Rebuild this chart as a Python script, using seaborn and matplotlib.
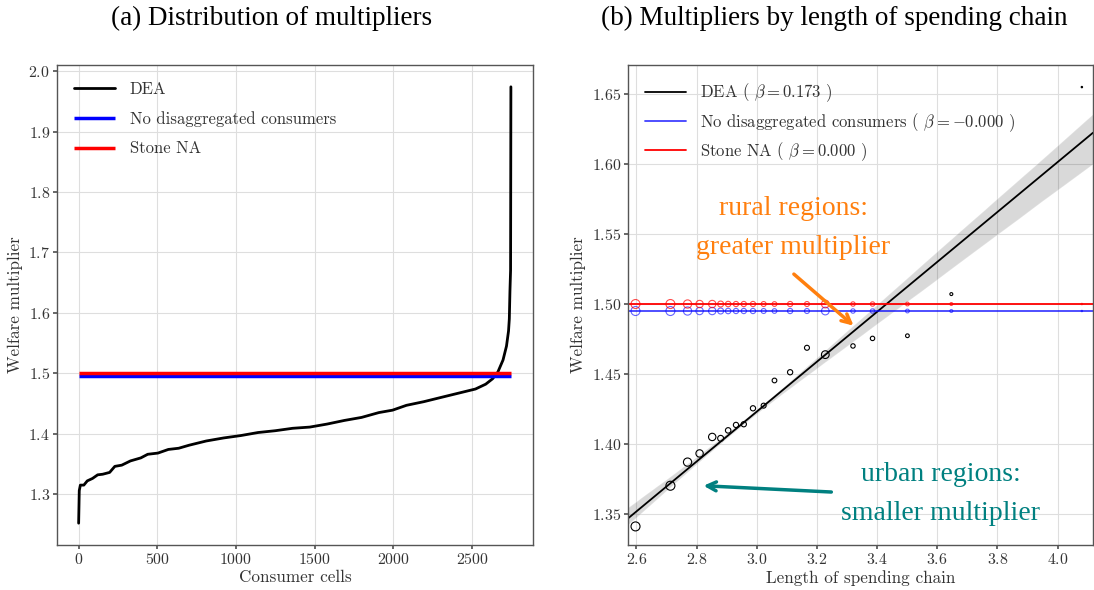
import numpy as np
import pandas as pd
import matplotlib
matplotlib.use("Agg")
import matplotlib.pyplot as plt
import seaborn as sns

# ---------------- Data ----------------
# Panel (a): DEA welfare multipliers sorted across consumer cells
cell_rank = [0, 4, 11, 33, 55, 88, 121, 153, 197, 230, 274, 329, 395, 439, 504,
             570, 636, 702, 811, 921, 1031, 1140, 1250, 1360, 1469, 1579, 1689,
             1798, 1908, 1995, 2083, 2193, 2302, 2412, 2522, 2587, 2631, 2664,
             2697, 2719, 2732, 2737, 2741, 2745, 2747]
dea_sorted = [1.252, 1.306, 1.315, 1.315, 1.322, 1.326, 1.332, 1.333, 1.336, 1.346,
              1.348, 1.355, 1.360, 1.366, 1.368, 1.374, 1.376, 1.381, 1.388, 1.393,
              1.397, 1.402, 1.405, 1.409, 1.411, 1.416, 1.422, 1.427, 1.435, 1.439,
              1.447, 1.453, 1.460, 1.467, 1.474, 1.482, 1.491, 1.502, 1.522, 1.545,
              1.570, 1.590, 1.636, 1.670, 1.974]
n_cells = 2750
no_disagg_value = 1.495
stone_na_value = 1.500

# Panel (b): multipliers by length of spending chain
chain_length = [2.597, 2.713, 2.770, 2.810, 2.852, 2.880, 2.905, 2.931, 2.957, 2.9875,
                3.023, 3.059, 3.111, 3.167, 3.228, 3.320, 3.385, 3.501, 3.647, 4.081]
dea_mult = [1.3409, 1.3700, 1.3869, 1.3931, 1.4049, 1.4039, 1.4096, 1.4135, 1.4140, 1.4254,
            1.4273, 1.4453, 1.4512, 1.4687, 1.4638, 1.4700, 1.4754, 1.4773, 1.5071, 1.6552]
cells_per_bin = [300, 300, 250, 200, 200, 130, 110, 100, 100, 100,
                 90, 80, 100, 90, 220, 70, 70, 50, 30, 5]

series_labels = ["DEA", "No disaggregated consumers", "Stone NA"]
beta_labels = ["DEA ( $\\beta = 0.173$ )",
               "No disaggregated consumers ( $\\beta = -0.000$ )",
               "Stone NA ( $\\beta = 0.000$ )"]
titles = ["(a) Distribution of multipliers", "(b) Multipliers by length of spending chain"]
notes = ["rural regions:\ngreater multiplier", "urban regions:\nsmaller multiplier"]

# ---------------- Style ----------------
sns.set_theme(style="whitegrid")
plt.rcParams.update({
    "font.family": ["cmr10", "DejaVu Serif"],
    "mathtext.fontset": "cm",
    "axes.formatter.use_mathtext": True,
    "axes.unicode_minus": False,
    "axes.edgecolor": "#555555",
    "axes.linewidth": 1.0,
    "grid.color": "#dedede",
    "grid.linewidth": 0.8,
    "xtick.bottom": True,
    "ytick.left": True,
    "xtick.major.size": 3,
    "ytick.major.size": 3,
    "xtick.color": "#555555",
    "ytick.color": "#555555",
    "xtick.labelcolor": "#333333",
    "ytick.labelcolor": "#333333",
    "axes.labelcolor": "#333333",
    "text.color": "#333333",
})

fig = plt.figure(figsize=(10.94, 5.90), dpi=100)
ax1 = fig.add_axes([57 / 1094, 1 - 545 / 590, (533 - 57) / 1094, (545 - 65) / 590])
ax2 = fig.add_axes([628 / 1094, 1 - 545 / 590, (1093 - 628) / 1094, (545 - 65) / 590])

tick_fs = 11.4
label_fs = 12.3
legend_fs = 12
leg_kw = dict(loc="upper left", frameon=False, fontsize=legend_fs, handlelength=2.5,
              handletextpad=0.85, borderaxespad=0.6)

# ---------------- Panel (a) ----------------
df_a = pd.DataFrame({"rank": cell_rank, "mult": dea_sorted})
sns.lineplot(data=df_a, x="rank", y="mult", color="black", lw=2.0, ax=ax1,
             label=series_labels[0], sort=False)
ax1.hlines(no_disagg_value, 0, n_cells, color="blue", lw=2.5, label=series_labels[1])
ax1.hlines(stone_na_value, 0, n_cells, color="red", lw=2.5, label=series_labels[2])
ax1.set_xlabel("Consumer cells", fontsize=label_fs, labelpad=2)
ax1.set_ylabel("Welfare multiplier", fontsize=label_fs)
ax1.tick_params(labelsize=tick_fs, pad=2)
ax1.legend(labelspacing=0.85, **leg_kw)

# ---------------- Panel (b) ----------------
ax2.set_xlim(2.572, 4.118)
ax2.set_ylim(1.3276, 1.671)
sns.regplot(x=np.array(chain_length), y=np.array(dea_mult), scatter=False, truncate=False,
            color="black", ci=50, seed=0, ax=ax2, label=beta_labels[0],
            line_kws=dict(lw=1.3))
ax2.axhline(no_disagg_value, color="blue", alpha=0.75, lw=1.3, label=beta_labels[1])
ax2.axhline(stone_na_value, color="red", lw=1.3, label=beta_labels[2])

n_bins = len(chain_length)
for yvals, col, alpha in [(dea_mult, "black", 1.0),
                          ([no_disagg_value] * n_bins, "blue", 0.6),
                          ([stone_na_value] * n_bins, "red", 0.7)]:
    sns.scatterplot(x=chain_length, y=yvals, size=cells_per_bin, sizes=(1, 42),
                    legend=False, ax=ax2)
    coll = ax2.collections[-1]
    coll.set_facecolor("none")
    coll.set_edgecolor(col)
    coll.set_alpha(alpha)
    coll.set_linewidth(0.8)

ax2.set_xlim(2.572, 4.118)
ax2.set_ylim(1.3276, 1.671)
ax2.set_xlabel("Length of spending chain", fontsize=label_fs, labelpad=2)
ax2.set_ylabel("Welfare multiplier", fontsize=label_fs)
ax2.tick_params(labelsize=tick_fs, pad=2)
ax2.legend(labelspacing=0.4, **leg_kw)

orange = "#ff7f0e"
teal = "#008080"
serif = ["Liberation Serif", "DejaVu Serif"]
ax2.text(3.122, 1.5542, notes[0], ha="center", va="center", color=orange,
         fontsize=20, family=serif, linespacing=1.75, multialignment="center")
ax2.annotate("", xy=(3.322, 1.4845), xytext=(3.1235, 1.5214),
             arrowprops=dict(arrowstyle="->", color=orange, lw=2.5,
                             shrinkA=0, shrinkB=0, mutation_scale=16))
ax2.text(3.611, 1.364, notes[1], ha="center", va="center", color=teal,
         fontsize=20, family=serif, linespacing=1.75, multialignment="center")
ax2.annotate("", xy=(2.823, 1.370), xytext=(3.248, 1.3655),
             arrowprops=dict(arrowstyle="->", color=teal, lw=2.5,
                             shrinkA=0, shrinkB=0, mutation_scale=16))

# Titles
fig.text(272 / 1094, 1 - 18 / 590, titles[0], ha="center", va="center",
         fontsize=19.5, family=serif, color="black")
fig.text(834 / 1094, 1 - 18 / 590, titles[1], ha="center", va="center",
         fontsize=19.5, family=serif, color="black")

fig.savefig("out.png", dpi=100)
